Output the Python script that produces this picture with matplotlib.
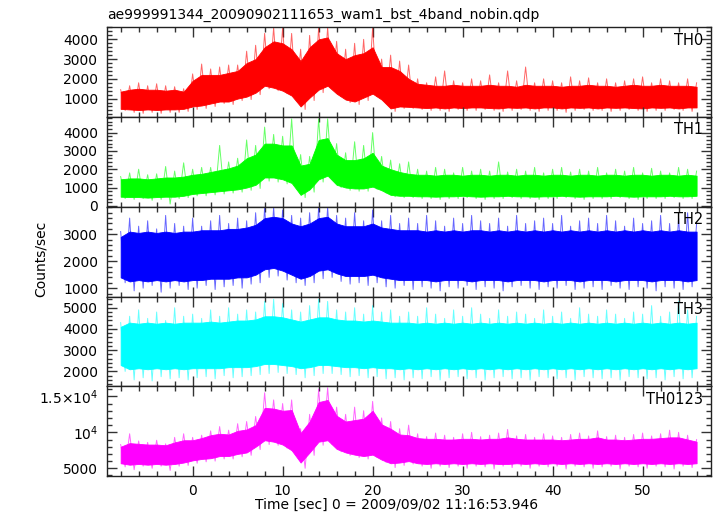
import numpy as np
import matplotlib
matplotlib.use("Agg")
import matplotlib.pyplot as plt
from matplotlib.ticker import MultipleLocator, FixedLocator

plt.rcParams['font.family'] = ['DejaVu Sans']

# time grid (sec), 1-s bins
time = list(range(-8, 57))

# ---- TH0 (counts/sec): dense core band and spike tips
th0_core_hi = [1350, 1450, 1500, 1450, 1450, 1400, 1450, 1350, 1900, 2200, 2200, 2200, 2300, 2400, 2800, 3000,
               3600, 3900, 3800, 3500, 2900, 3600, 4000, 4100, 3300, 3000, 3200, 3300, 3600, 2600, 2600, 2400,
               2000, 1750, 1700, 1650, 1650, 1700, 1650, 1650, 1650, 1700, 1650, 1650, 1600, 1700, 1650, 1650,
               1650, 1600, 1650, 1650, 1700, 1650, 1650, 1600, 1650, 1700, 1650, 1650, 1700, 1650, 1650, 1650, 1600]
th0_core_lo = [480, 450, 420, 450, 420, 450, 450, 480, 600, 650, 750, 850, 850, 1000, 1100, 1300,
               1650, 1550, 1400, 1150, 600, 1050, 1450, 1650, 1250, 950, 850, 1050, 1250, 950, 500, 600,
               580, 550, 520, 550, 500, 550, 520, 550, 550, 520, 500, 550, 530, 550, 500, 550,
               550, 500, 550, 530, 550, 500, 550, 530, 550, 520, 500, 550, 530, 550, 500, 550, 550]
th0_spike_hi = [1450, 1650, 1800, 1650, 1750, 1650, 1600, 1500, 2250, 2750, 2500, 2600, 2700, 2700, 3400, 3700,
                4300, 4600, 4600, 4300, 3500, 4200, 4600, 4600, 3900, 3500, 3800, 4000, 4600, 3000, 3200, 2900,
                2700, 2000, 1800, 2100, 2400, 1900, 1800, 2000, 1900, 2200, 1800, 2400, 1900, 2600, 1800, 2000,
                1900, 1800, 2100, 1900, 2050, 1800, 2000, 1800, 1900, 2000, 2100, 1800, 2000, 1900, 1800, 2000, 1800]
th0_spike_lo = [400, 300, 250, 300, 250, 300, 300, 350, 450, 500, 600, 750, 700, 900, 950, 1200,
                1500, 1400, 1250, 1000, 450, 900, 1300, 1500, 1100, 800, 700, 900, 1100, 800, 350, 500,
                500, 450, 400, 400, 350, 450, 400, 400, 450, 400, 350, 400, 450, 400, 350, 400,
                400, 300, 400, 450, 400, 400, 350, 400, 450, 400, 350, 400, 400, 450, 400, 350, 450]

# ---- TH1
th1_core_hi = [1450, 1500, 1500, 1450, 1500, 1550, 1550, 1600, 1700, 1750, 1850, 1950, 2050, 2200, 2600, 2800,
               3400, 3400, 3300, 3300, 2200, 2300, 3600, 3700, 2800, 2500, 2500, 2600, 2900, 2200, 2000, 1850,
               1750, 1700, 1700, 1650, 1700, 1700, 1650, 1700, 1700, 1650, 1700, 1700, 1650, 1700, 1700, 1650,
               1700, 1700, 1650, 1700, 1700, 1650, 1700, 1700, 1650, 1700, 1700, 1650, 1700, 1700, 1650, 1700, 1650]
th1_core_lo = [500, 480, 480, 450, 480, 500, 500, 550, 650, 700, 750, 800, 850, 900, 1000, 1150,
               1550, 1550, 1450, 1250, 600, 900, 1450, 1650, 1150, 1000, 950, 950, 1050, 850, 600, 550,
               550, 520, 520, 500, 520, 520, 550, 520, 500, 520, 520, 550, 520, 520, 500, 520,
               520, 550, 520, 500, 520, 520, 520, 550, 520, 500, 520, 520, 520, 550, 520, 520, 550]
th1_spike_hi = [1600, 1800, 2000, 1700, 1750, 2150, 1900, 2350, 2000, 2100, 2100, 3300, 2400, 2600, 3600, 3300,
                4300, 3900, 3800, 4750, 2800, 2700, 4750, 4750, 3400, 2900, 3500, 3300, 4000, 2700, 2500, 2300,
                2400, 2000, 1900, 2100, 2000, 1800, 2100, 1900, 2000, 1900, 2400, 1850, 2000, 1900, 2100, 1800,
                2000, 2100, 1850, 2000, 1900, 2100, 1800, 2000, 1900, 2100, 1800, 2050, 1900, 1800, 2100, 2000, 1900]
th1_spike_lo = [400, 350, 400, 300, 350, 100, 400, 450, 550, 550, 600, 650, 700, 750, 850, 950,
                1350, 1300, 1200, 1000, 450, 750, 1300, 1450, 1000, 850, 800, 800, 900, 700, 500, 450,
                450, 400, 400, 350, 400, 400, 450, 400, 350, 400, 400, 450, 400, 400, 350, 400,
                400, 450, 400, 350, 400, 400, 400, 450, 400, 350, 400, 400, 400, 450, 400, 400, 450]

# ---- TH2
th2_core_hi = [2900, 3100, 3050, 3100, 3050, 3100, 3050, 3100, 3100, 3150, 3150, 3150, 3200, 3200, 3250, 3350,
               3600, 3650, 3600, 3400, 3300, 3400, 3600, 3650, 3400, 3300, 3300, 3300, 3400, 3250, 3200, 3150,
               3150, 3150, 3100, 3150, 3100, 3150, 3100, 3150, 3150, 3100, 3150, 3100, 3150, 3100, 3150, 3100,
               3150, 3100, 3150, 3100, 3150, 3100, 3150, 3100, 3150, 3100, 3150, 3100, 3150, 3100, 3150, 3100, 3100]
th2_core_lo = [1400, 1250, 1300, 1250, 1300, 1250, 1300, 1250, 1300, 1300, 1350, 1350, 1350, 1400, 1400, 1500,
               1700, 1750, 1650, 1500, 1350, 1450, 1650, 1700, 1550, 1450, 1450, 1450, 1500, 1400, 1350, 1300,
               1300, 1300, 1300, 1250, 1300, 1300, 1300, 1250, 1300, 1300, 1300, 1250, 1300, 1300, 1300, 1250,
               1300, 1300, 1300, 1250, 1300, 1300, 1300, 1250, 1300, 1300, 1300, 1250, 1300, 1300, 1300, 1250, 1300]
th2_spike_hi = [3100, 3600, 3300, 3500, 3200, 3700, 3400, 3300, 3600, 3300, 3500, 3700, 3400, 3600, 3500, 3800,
                4000, 4000, 3900, 3700, 3600, 3800, 4000, 4000, 3700, 3600, 3800, 3500, 3900, 3500, 3700, 3400,
                3600, 3400, 3700, 3500, 3300, 3600, 3400, 3700, 3500, 3400, 3600, 3300, 3700, 3400, 3500, 3600,
                3400, 3700, 3300, 3500, 3600, 3400, 3700, 3500, 3300, 3600, 3400, 3500, 3700, 3400, 3600, 3800, 3400]
th2_spike_lo = [1200, 900, 1000, 1100, 850, 1000, 1100, 950, 1000, 1100, 950, 1050, 1100, 1000, 1150, 1200,
                1400, 1450, 1300, 1200, 1100, 1200, 1350, 1400, 1250, 1150, 1200, 1100, 1200, 1050, 1000, 1100,
                950, 1050, 1000, 900, 1050, 1000, 1100, 950, 1050, 1000, 900, 1050, 1100, 1000, 950, 1050,
                1000, 1100, 950, 1000, 1050, 950, 1100, 1000, 950, 1050, 1000, 900, 1050, 1000, 950, 1050, 1000]

# ---- TH3
th3_core_hi = [4100, 4300, 4250, 4300, 4250, 4300, 4250, 4300, 4300, 4300, 4350, 4300, 4350, 4400, 4400, 4450,
               4600, 4600, 4550, 4450, 4350, 4450, 4550, 4550, 4450, 4400, 4400, 4350, 4400, 4350, 4300, 4300,
               4300, 4250, 4300, 4250, 4300, 4250, 4300, 4250, 4300, 4250, 4300, 4250, 4300, 4250, 4300, 4250,
               4300, 4250, 4300, 4250, 4300, 4250, 4300, 4250, 4300, 4250, 4300, 4250, 4300, 4250, 4300, 4250, 4300]
th3_core_lo = [2300, 2100, 2150, 2100, 2150, 2100, 2150, 2100, 2150, 2150, 2150, 2150, 2200, 2200, 2200, 2250,
               2350, 2350, 2300, 2250, 2150, 2200, 2300, 2300, 2250, 2200, 2200, 2150, 2200, 2150, 2150, 2100,
               2150, 2100, 2150, 2100, 2150, 2100, 2150, 2100, 2150, 2100, 2150, 2100, 2150, 2100, 2150, 2100,
               2150, 2100, 2150, 2100, 2150, 2100, 2150, 2100, 2150, 2100, 2150, 2100, 2150, 2100, 2150, 2100, 2150]
th3_spike_hi = [4300, 4600, 4900, 4500, 4800, 4400, 5000, 4600, 4700, 4500, 4900, 4600, 5000, 4700, 4900, 4800,
                5300, 5400, 5200, 4900, 4800, 5100, 5400, 5300, 4900, 4800, 5000, 4700, 5100, 4800, 4900, 4600,
                4800, 4600, 5000, 4700, 4500, 4900, 4600, 5000, 4700, 4500, 4900, 4600, 4800, 4700, 4500, 4900,
                4600, 4800, 4500, 5000, 4700, 4600, 4900, 4700, 4500, 4800, 4700, 5100, 4600, 4800, 5300, 4900, 4600]
th3_spike_lo = [2000, 1600, 1700, 1550, 1750, 1650, 1700, 1600, 1700, 1750, 1650, 1800, 1700, 1750, 1800, 1850,
                1900, 1950, 1900, 1850, 1700, 1800, 1900, 1900, 1850, 1750, 1800, 1700, 1750, 1650, 1700, 1600,
                1700, 1650, 1750, 1600, 1700, 1750, 1650, 1700, 1600, 1700, 1750, 1650, 1700, 1600, 1750, 1700,
                1650, 1700, 1600, 1750, 1700, 1650, 1700, 1600, 1750, 1700, 1650, 1700, 1600, 1750, 1650, 1700, 1650]

# ---- TH0123
th0123_core_hi = [8000, 8500, 8400, 8300, 8300, 8200, 8600, 8900, 8900, 9200, 9600, 9800, 9700, 10200, 10400, 11000,
                  13400, 13300, 13000, 13100, 9900, 11500, 14200, 14500, 12300, 11500, 11700, 11900, 13000, 11100, 10500, 9700,
                  9600, 9200, 9100, 9100, 9000, 9000, 9100, 9100, 9000, 9100, 9100, 9300, 9100, 9000, 9000, 9000,
                  9000, 8900, 9000, 9100, 9100, 9300, 9000, 9000, 8900, 9000, 9100, 9100, 9200, 9300, 9300, 9000, 8700]
th0123_core_lo = [5700, 5500, 5600, 5500, 5600, 5500, 5600, 5800, 6100, 6300, 6400, 6700, 6700, 7000, 7200, 8000,
                  8900, 8700, 8300, 7500, 5800, 7200, 8700, 8900, 7700, 7200, 6900, 6700, 6900, 6200, 5700, 5800,
                  6000, 5700, 5600, 5700, 5600, 5700, 5600, 5700, 5600, 5700, 5600, 5600, 5700, 5600, 5700, 5600,
                  5700, 5600, 5700, 5600, 5700, 5600, 5700, 5600, 5700, 5600, 5700, 5600, 5700, 5600, 5700, 5600, 5700]
th0123_spike_hi = [8300, 9800, 8800, 8600, 8900, 8400, 9300, 9800, 9300, 9600, 10200, 10800, 10300, 11200, 11500, 12200,
                   15500, 14500, 14000, 14500, 10500, 12500, 16000, 16200, 13500, 12500, 13500, 13000, 14300, 12000, 11500, 10500,
                   11000, 9800, 9400, 9900, 9600, 9300, 9800, 10000, 9400, 9600, 9900, 10400, 9500, 9700, 9300, 9800,
                   9500, 9300, 9700, 9900, 9500, 10200, 9400, 9600, 9300, 9700, 9900, 9500, 9800, 10300, 10000, 9600, 9000]
th0123_spike_lo = [5200, 4800, 5300, 5000, 5300, 4700, 5300, 5400, 5700, 5900, 6000, 6300, 6300, 6600, 6800, 7600,
                   8300, 8200, 7800, 7000, 5000, 6800, 8200, 8300, 7300, 6800, 6500, 6300, 6500, 5800, 5100, 5400,
                   5600, 5300, 5000, 5300, 5100, 5300, 5000, 5300, 5200, 4900, 5300, 5100, 5300, 5000, 5300, 5200,
                   5300, 4900, 5300, 5200, 5000, 5200, 5300, 4900, 5300, 5200, 5000, 5300, 5200, 4900, 5300, 5100, 5300]

bands = ["TH0", "TH1", "TH2", "TH3", "TH0123"]
colors = ["#ff0000", "#00ff00", "#0000ff", "#00ffff", "#ff00ff"]
core_hi = [th0_core_hi, th1_core_hi, th2_core_hi, th3_core_hi, th0123_core_hi]
core_lo = [th0_core_lo, th1_core_lo, th2_core_lo, th3_core_lo, th0123_core_lo]
spike_hi = [th0_spike_hi, th1_spike_hi, th2_spike_hi, th3_spike_hi, th0123_spike_hi]
spike_lo = [th0_spike_lo, th1_spike_lo, th2_spike_lo, th3_spike_lo, th0123_spike_lo]
ylims = [(65, 4610), (-50, 4850), (690, 4020), (1300, 5530), (3930, 16400)]
yticks = [[1000, 2000, 3000, 4000], [0, 1000, 2000, 3000, 4000], [1000, 2000, 3000],
          [2000, 3000, 4000, 5000], [5000, 10000, 15000]]
yticklabels = [["1000", "2000", "3000", "4000"], ["0", "1000", "2000", "3000", "4000"],
               ["1000", "2000", "3000"], ["2000", "3000", "4000", "5000"],
               ["5000", r"$10^4$", r"$1.5{\times}10^4$"]]
yminor = [200, 200, 200, 200, 1000]

title = "ae999991344_20090902111653_wam1_bst_4band_nobin.qdp"
xlabel = "Time [sec] 0 = 2009/09/02 11:16:53.946"
ylabel = "Counts/sec"

W, H = 717, 516
fig = plt.figure(figsize=(W / 100, H / 100), dpi=100)

left_px, right_px = 106.7, 711.0
top_px, bot_px = 27.3, 476.0
ph = (bot_px - top_px) / 5

t = np.array(time, dtype=float)
for i in range(5):
    y0 = top_px + ph * (i + 1)
    ax = fig.add_axes([left_px / W, (H - y0) / H, (right_px - left_px) / W, ph / H])
    # spikes: up-tip at each second, down-tip half a second later
    xs = np.column_stack([t, t + 0.5]).ravel()[:-1]
    ys = np.column_stack([spike_hi[i], spike_lo[i]]).ravel()[:-1]
    ax.plot(xs, ys, color=colors[i], lw=0.7, alpha=0.6)
    ax.fill_between(t, core_lo[i], core_hi[i], color=colors[i], linewidth=0.6, edgecolor=colors[i])
    ax.set_xlim(-9.55, 57.6)
    ax.set_ylim(*ylims[i])
    ax.xaxis.set_major_locator(MultipleLocator(10))
    ax.xaxis.set_minor_locator(MultipleLocator(2))
    ax.yaxis.set_major_locator(FixedLocator(yticks[i]))
    ax.set_yticklabels(yticklabels[i])
    ax.yaxis.set_minor_locator(MultipleLocator(yminor[i]))
    ax.tick_params(which='both', direction='in', top=True, right=True, labelsize=10,
                   width=1.0, color='#333333')
    ax.tick_params(which='major', length=7, pad=6)
    ax.tick_params(which='minor', length=3.5)
    for s in ax.spines.values():
        s.set_linewidth(1.0)
        s.set_color('#222222')
    if i < 4:
        ax.tick_params(labelbottom=False)
    ax.text(0.987, 0.94, bands[i], transform=ax.transAxes, ha='right', va='top', fontsize=10.5)
    if i == 0:
        ax.text(0.0, 1.055, title, transform=ax.transAxes, ha='left', va='bottom', fontsize=10)

fig.text(397 / W, 1 - 505 / H, xlabel, ha='center', va='center', fontsize=10)
fig.text(41 / W, 1 - 259 / H, ylabel, ha='center', va='center', rotation=90, fontsize=10)

fig.savefig("out.png", dpi=100)
